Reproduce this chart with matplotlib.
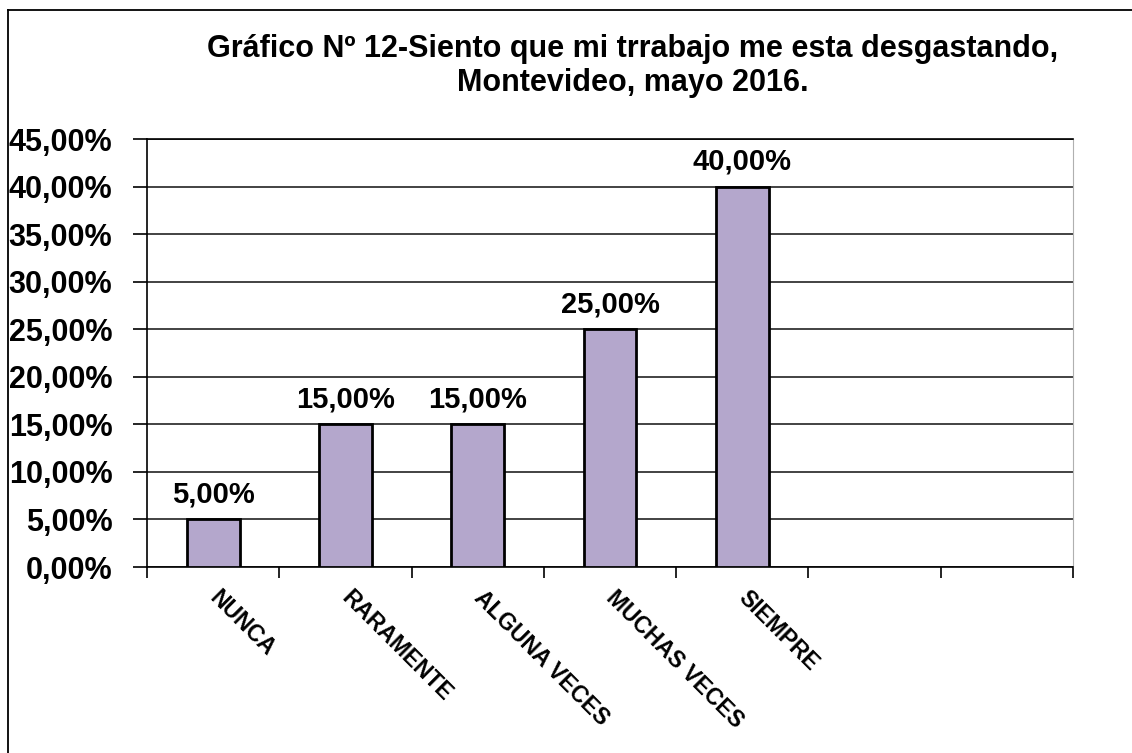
import matplotlib.pyplot as plt
from matplotlib.lines import Line2D

plt.rcParams['font.family'] = ['Liberation Sans', 'DejaVu Sans']

categorias = ['NUNCA', 'RARAMENTE', 'ALGUNA VECES', 'MUCHAS VECES', 'SIEMPRE']
porcentajes = [5.0, 15.0, 15.0, 25.0, 40.0]
n_espacios = 7  # el eje tiene 7 casillas, las dos ultimas vacias
y_ticks = [0, 5, 10, 15, 20, 25, 30, 35, 40, 45]

titulo = 'Gráfico Nº 12-Siento que mi trrabajo me esta desgastando,\nMontevideo, mayo 2016.'


def fmt(v):
    return f'{v:.2f}'.replace('.', ',') + '%'


fig = plt.figure(figsize=(11.32, 7.53), dpi=100)
ax = fig.add_axes([147 / 1132, 1 - 567 / 753, 926 / 1132, 428 / 753])

centros = [i + 0.5 for i in range(len(categorias))]
barras = ax.bar(centros, porcentajes, width=0.4, color='#b4a7cc',
                edgecolor='black', linewidth=2, zorder=3)

for x, v in zip(centros, porcentajes):
    ax.annotate(fmt(v), (x, v), xytext=(0, 8), textcoords='offset points',
                ha='center', va='bottom', fontsize=21, fontweight='bold')

ax.set_xlim(0, n_espacios)
ax.set_ylim(0, 45)
ax.set_yticks(y_ticks)
ax.set_yticklabels([fmt(v) for v in y_ticks], fontsize=22, fontweight='bold')
ax.yaxis.grid(True, color='#222222', linewidth=1.2, zorder=0)
ax.tick_params(axis='y', length=10, width=1.2, pad=15)

# marcas en los limites de cada casilla, etiquetas en el centro
ax.set_xticks(range(n_espacios + 1))
ax.set_xticklabels([])
ax.tick_params(axis='x', which='major', length=8, width=1.2)
ax.set_xticks(centros, minor=True)
ax.set_xticklabels(categorias, minor=True, rotation=-45, ha='left', va='center',
                   rotation_mode='anchor', fontsize=16.5, fontweight='bold')
ax.tick_params(axis='x', which='minor', length=0, pad=20)

ax.spines['left'].set_linewidth(1.2)
ax.spines['bottom'].set_linewidth(1.2)
ax.spines['top'].set_linewidth(1.2)
ax.spines['right'].set_color('#b0b0b0')

fig.text(633 / 1132, 1 - 66 / 753, titulo, ha='center', va='center',
         fontsize=22, fontweight='bold', linespacing=1.15)

# marco de la figura (solo borde izquierdo y superior)
fig.add_artist(Line2D([8 / 1132, 8 / 1132], [0, 1 - 10 / 753],
                      transform=fig.transFigure, color='black', linewidth=1.3))
fig.add_artist(Line2D([8 / 1132, 1], [1 - 10 / 753, 1 - 10 / 753],
                      transform=fig.transFigure, color='black', linewidth=1.3))

fig.savefig('out.png', dpi=100)
